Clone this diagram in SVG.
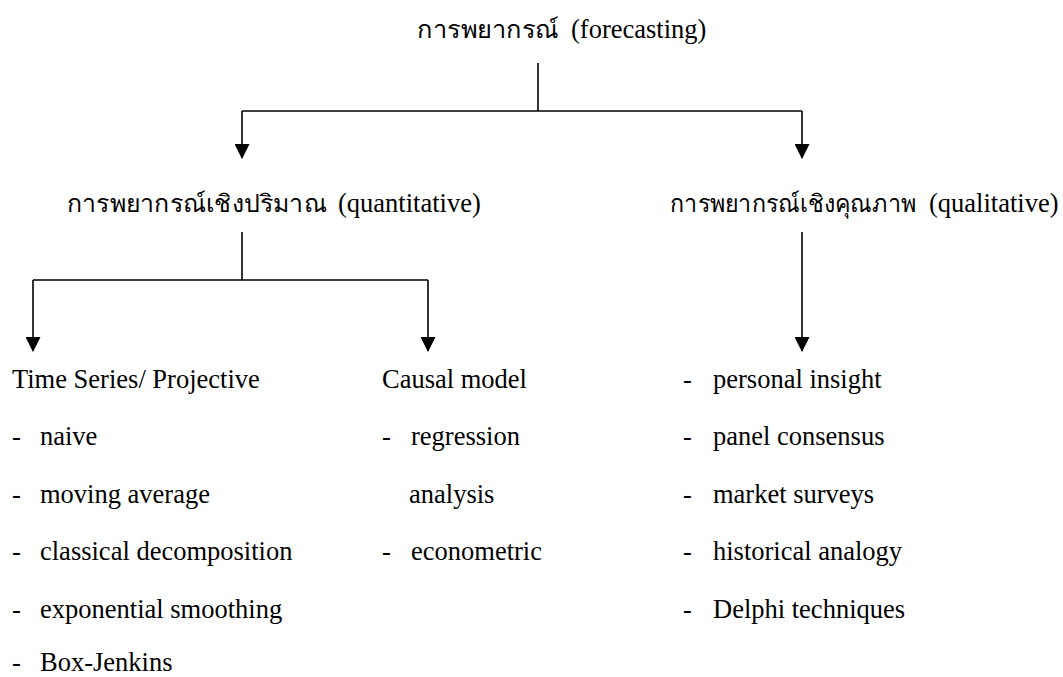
<svg xmlns="http://www.w3.org/2000/svg" width="1063" height="677" viewBox="0 0 1063 677">
<style>
text{font-family:"Liberation Serif","Noto Serif","DejaVu Serif",serif;font-size:26.5px;fill:#000}
.th{font-size:24.5px}
.ln{stroke:#000;stroke-width:1.6;fill:none}
</style>
<defs>
<marker id="ah" markerWidth="15" markerHeight="15" viewBox="0 0 15 15" refX="14" refY="7.5" orient="auto" markerUnits="userSpaceOnUse">
<path d="M0,0 L15,7.5 L0,15 Z" fill="#000"/>
</marker>
</defs>
<rect width="1063" height="677" fill="#fff"/>
<g id="connectors">
<path class="ln" d="M538,63 V111"/>
<path class="ln" d="M242,111 H802"/>
<path class="ln" d="M242,111 V158" marker-end="url(#ah)"/>
<path class="ln" d="M802,111 V158" marker-end="url(#ah)"/>
<path class="ln" d="M242,232 V280"/>
<path class="ln" d="M33,280 H428"/>
<path class="ln" d="M33,280 V351" marker-end="url(#ah)"/>
<path class="ln" d="M428,280 V351" marker-end="url(#ah)"/>
<path class="ln" d="M802,232 V351" marker-end="url(#ah)"/>
</g>
<g id="root">
<text class="th" x="417" y="38" textLength="142" lengthAdjust="spacingAndGlyphs">การพยากรณ์</text>
<text x="571" y="38">(forecasting)</text>
</g>
<g id="quantitative">
<text class="th" x="67" y="212" textLength="260" lengthAdjust="spacingAndGlyphs">การพยากรณ์เชิงปริมาณ</text>
<text x="338" y="212">(quantitative)</text>
</g>
<g id="qualitative">
<text class="th" x="670" y="212" textLength="246" lengthAdjust="spacingAndGlyphs">การพยากรณ์เชิงคุณภาพ</text>
<text x="929" y="212">(qualitative)</text>
</g>
<g id="timeseries">
<text x="12" y="388">Time Series/ Projective</text>
<text x="12" y="445">-</text><text x="40" y="445">naive</text>
<text x="12" y="503">-</text><text x="40" y="503">moving average</text>
<text x="12" y="560">-</text><text x="40" y="560">classical decomposition</text>
<text x="12" y="618">-</text><text x="40" y="618">exponential smoothing</text>
<text x="12" y="671">-</text><text x="40" y="671">Box-Jenkins</text>
</g>
<g id="causal">
<text x="382" y="388">Causal model</text>
<text x="382" y="445">-</text><text x="411" y="445">regression</text>
<text x="409" y="503">analysis</text>
<text x="382" y="560">-</text><text x="411" y="560">econometric</text>
</g>
<g id="qualitative-methods">
<text x="683" y="388">-</text><text x="713" y="388">personal insight</text>
<text x="683" y="445">-</text><text x="713" y="445">panel consensus</text>
<text x="683" y="503">-</text><text x="713" y="503">market surveys</text>
<text x="683" y="560">-</text><text x="713" y="560">historical analogy</text>
<text x="683" y="618">-</text><text x="713" y="618">Delphi techniques</text>
</g>
</svg>
